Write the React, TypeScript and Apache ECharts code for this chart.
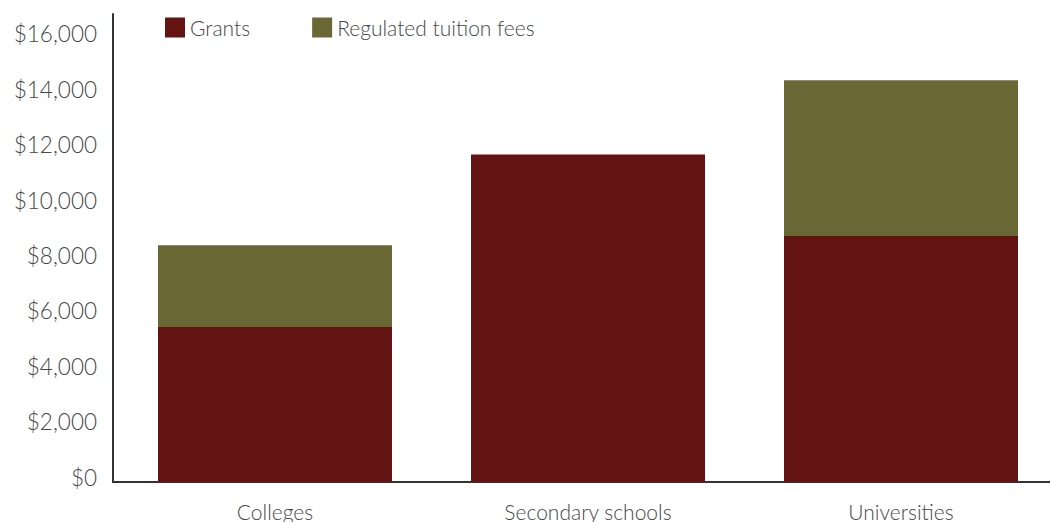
import React, { useEffect, useRef } from "react";
import * as echarts from "echarts";

const categories = ["Colleges", "Secondary schools", "Universities"];
const grants = [5600, 11830, 8880];
const tuitionFees = [2950, 0, 5630];
const seriesNames = ["Grants", "Regulated tuition fees"];
const colors = ["#631311", "#696835"];

const font = "Lato, 'Open Sans', sans-serif";
const textColor = "#474747";

export default function App() {
  const ref = useRef<HTMLDivElement>(null);
  useEffect(() => {
    const chart = echarts.init(ref.current!, null, { renderer: "svg" });
    chart.setOption({
      animation: false,
      color: colors,
      grid: { left: 118.5, width: 939, top: 14, bottom: 37, containLabel: false },
      legend: {
        left: 165,
        top: 17,
        padding: 0,
        itemWidth: 20,
        itemHeight: 20,
        itemGap: 62,
        icon: "rect",
        data: seriesNames,
        textStyle: { fontFamily: font, fontSize: 21, fontWeight: 300, color: textColor },
      },
      xAxis: {
        type: "category",
        data: categories,
        axisLine: { lineStyle: { color: "#333", width: 2 } },
        axisTick: { show: false },
        axisLabel: { fontFamily: font, fontSize: 21, fontWeight: 300, color: textColor, margin: 19 },
      },
      yAxis: {
        type: "value",
        min: 0,
        max: 16900,
        interval: 2000,
        offset: 5.5,
        splitLine: { show: false },
        axisTick: { show: false },
        axisLine: { show: true, lineStyle: { color: "#333", width: 2 } },
        axisLabel: {
          fontFamily: font,
          fontSize: 22.5,
          fontWeight: 300,
          color: textColor,
          margin: 16,
          showMaxLabel: false,
          verticalAlign: "bottom",
          lineHeight: 10,
          formatter: (v: number) => "$" + v.toLocaleString("en-US"),
        },
      },
      series: [
        {
          name: seriesNames[0],
          type: "bar",
          stack: "total",
          data: grants,
          barWidth: 234,
          itemStyle: { color: colors[0] },
        },
        {
          name: seriesNames[1],
          type: "bar",
          stack: "total",
          data: tuitionFees,
          barWidth: 234,
          itemStyle: { color: colors[1] },
        },
      ],
    });
    const y0 = Math.round(chart.convertToPixel({ yAxisIndex: 0 }, 0) as number);
    chart.setOption({
      graphic: [
        { type: "line", shape: { x1: 112, y1: y0, x2: 120, y2: y0 }, style: { stroke: "#333", lineWidth: 2 } },
      ],
    });
    return () => chart.dispose();
  }, []);
  return (
    <div style={{ width: 1050, height: 522, position: "absolute", left: 0, top: 0, overflow: "hidden" }}>
      <div ref={ref} style={{ width: 1062, height: 522 }} />
    </div>
  );
}
